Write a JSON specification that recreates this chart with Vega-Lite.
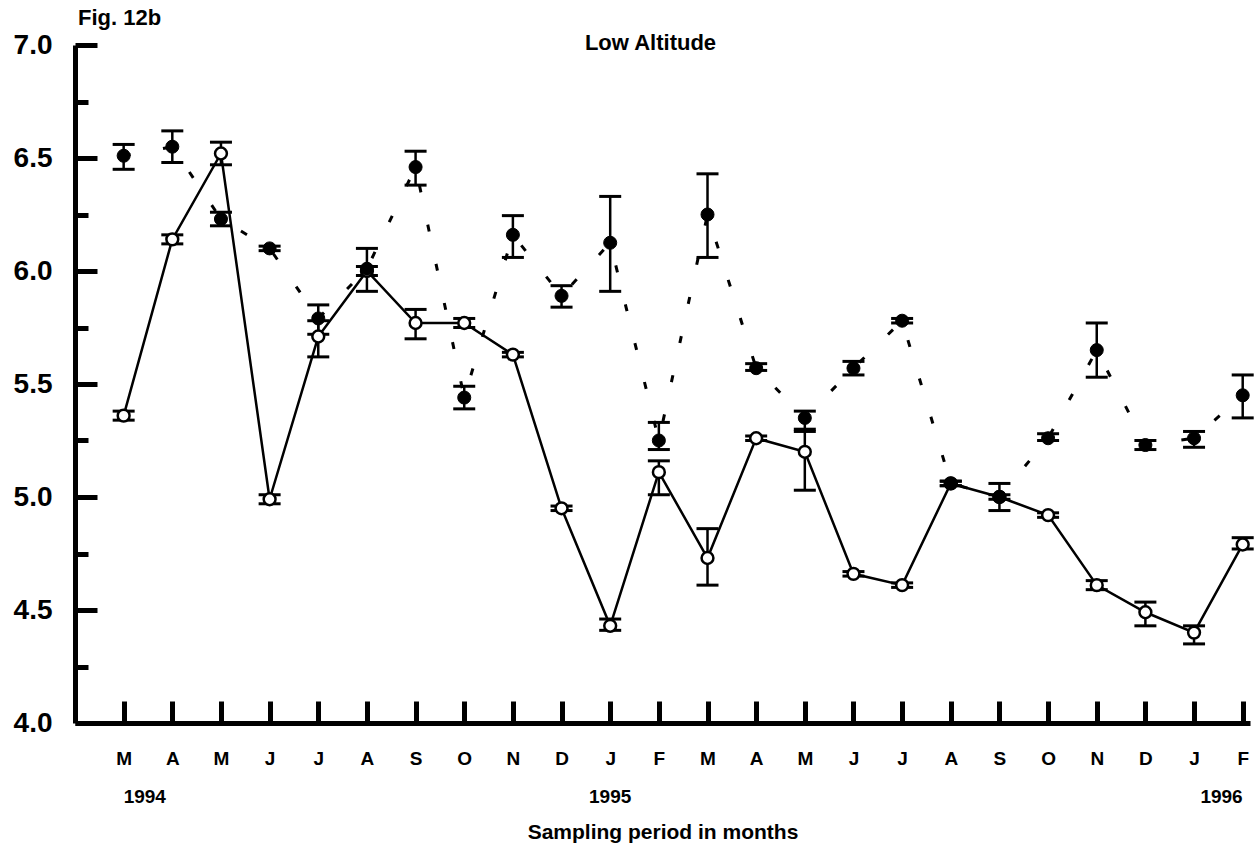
{
  "$schema": "https://vega.github.io/schema/vega-lite/v6.json",
  "width": 1175,
  "height": 678,
  "autosize": {"type": "none"},
  "padding": {"left": 75, "top": 45, "right": 5, "bottom": 131},
  "background": "white",
  "config": {"view": {"stroke": null}, "font": "Liberation Sans"},
  "title": {"text": "Low Altitude", "anchor": "middle", "frame": "group", "fontSize": 22, "fontWeight": "bold", "font": "Liberation Sans", "color": "black", "baseline": "middle", "offset": 0, "dx": -12, "dy": 58},
  "datasets": {
    "ph": [
      {"i": 0, "series": "filled", "v": 6.51, "lo": 6.45, "hi": 6.56},
      {"i": 1, "series": "filled", "v": 6.55, "lo": 6.48, "hi": 6.62},
      {"i": 2, "series": "filled", "v": 6.23, "lo": 6.2, "hi": 6.26},
      {"i": 3, "series": "filled", "v": 6.1, "lo": 6.09, "hi": 6.11},
      {"i": 4, "series": "filled", "v": 5.79, "lo": 5.72, "hi": 5.85},
      {"i": 5, "series": "filled", "v": 6.01, "lo": 5.91, "hi": 6.1},
      {"i": 6, "series": "filled", "v": 6.46, "lo": 6.38, "hi": 6.53},
      {"i": 7, "series": "filled", "v": 5.44, "lo": 5.39, "hi": 5.49},
      {"i": 8, "series": "filled", "v": 6.16, "lo": 6.06, "hi": 6.245},
      {"i": 9, "series": "filled", "v": 5.89, "lo": 5.84, "hi": 5.935},
      {"i": 10, "series": "filled", "v": 6.125, "lo": 5.91, "hi": 6.33},
      {"i": 11, "series": "filled", "v": 5.25, "lo": 5.21, "hi": 5.33},
      {"i": 12, "series": "filled", "v": 6.25, "lo": 6.06, "hi": 6.43},
      {"i": 13, "series": "filled", "v": 5.57, "lo": 5.56, "hi": 5.59},
      {"i": 14, "series": "filled", "v": 5.35, "lo": 5.29, "hi": 5.38},
      {"i": 15, "series": "filled", "v": 5.57, "lo": 5.54, "hi": 5.6},
      {"i": 16, "series": "filled", "v": 5.78, "lo": 5.77, "hi": 5.79},
      {"i": 17, "series": "filled", "v": 5.06, "lo": 5.05, "hi": 5.07},
      {"i": 18, "series": "filled", "v": 5.0, "lo": 4.94, "hi": 5.06},
      {"i": 19, "series": "filled", "v": 5.26, "lo": 5.25, "hi": 5.28},
      {"i": 20, "series": "filled", "v": 5.65, "lo": 5.53, "hi": 5.77},
      {"i": 21, "series": "filled", "v": 5.23, "lo": 5.21, "hi": 5.25},
      {"i": 22, "series": "filled", "v": 5.26, "lo": 5.22, "hi": 5.29},
      {"i": 23, "series": "filled", "v": 5.45, "lo": 5.35, "hi": 5.54},
      {"i": 0, "series": "open", "v": 5.36, "lo": 5.34, "hi": 5.38},
      {"i": 1, "series": "open", "v": 6.14, "lo": 6.12, "hi": 6.16},
      {"i": 2, "series": "open", "v": 6.52, "lo": 6.47, "hi": 6.57},
      {"i": 3, "series": "open", "v": 4.99, "lo": 4.97, "hi": 5.01},
      {"i": 4, "series": "open", "v": 5.71, "lo": 5.62, "hi": 5.78},
      {"i": 5, "series": "open", "v": 6.0, "lo": 5.98, "hi": 6.02},
      {"i": 6, "series": "open", "v": 5.77, "lo": 5.7, "hi": 5.83},
      {"i": 7, "series": "open", "v": 5.77, "lo": 5.75, "hi": 5.79},
      {"i": 8, "series": "open", "v": 5.63, "lo": 5.62, "hi": 5.64},
      {"i": 9, "series": "open", "v": 4.95, "lo": 4.94, "hi": 4.96},
      {"i": 10, "series": "open", "v": 4.43, "lo": 4.41, "hi": 4.46},
      {"i": 11, "series": "open", "v": 5.11, "lo": 5.01, "hi": 5.16},
      {"i": 12, "series": "open", "v": 4.73, "lo": 4.61, "hi": 4.86},
      {"i": 13, "series": "open", "v": 5.26, "lo": 5.25, "hi": 5.27},
      {"i": 14, "series": "open", "v": 5.2, "lo": 5.03, "hi": 5.3},
      {"i": 15, "series": "open", "v": 4.66, "lo": 4.65, "hi": 4.67},
      {"i": 16, "series": "open", "v": 4.61, "lo": 4.6, "hi": 4.62},
      {"i": 17, "series": "open", "v": 5.06, "lo": 5.05, "hi": 5.07},
      {"i": 18, "series": "open", "v": 5.0, "lo": 4.99, "hi": 5.01},
      {"i": 19, "series": "open", "v": 4.92, "lo": 4.91, "hi": 4.93},
      {"i": 20, "series": "open", "v": 4.61, "lo": 4.59, "hi": 4.63},
      {"i": 21, "series": "open", "v": 4.49, "lo": 4.43, "hi": 4.535},
      {"i": 22, "series": "open", "v": 4.4, "lo": 4.35, "hi": 4.43},
      {"i": 23, "series": "open", "v": 4.79, "lo": 4.77, "hi": 4.82}
    ],
    "years": [
      {"i": 0, "year": "1994"},
      {"i": 10, "year": "1995"},
      {"i": 23, "year": "1996"}
    ]
  },
  "layer": [
    {
      "data": {"name": "ph"},
      "transform": [{"filter": "datum.series === 'open'"}],
      "mark": {"type": "line", "color": "black", "strokeWidth": 2.5},
      "encoding": {
        "x": {"field": "i", "type": "quantitative", "scale": {"domain": [-1, 23.15], "nice": false, "zero": false},
          "axis": {"values": [0,1,2,3,4,5,6,7,8,9,10,11,12,13,14,15,16,17,18,19,20,21,22,23],
            "labelExpr": "['J','F','M','A','M','J','J','A','S','O','N','D'][(datum.value + 2) % 12]",
            "tickSize": -22, "tickWidth": 5, "tickColor": "black", "domainWidth": 5, "domainColor": "black",
            "labelPadding": 48, "labelFontSize": 19, "labelFontWeight": "bold", "labelFont": "Liberation Sans", "labelColor": "black",
            "labelFlush": false, "labelOverlap": false, "grid": false,
            "title": "Sampling period in months", "titleFontSize": 21, "titleFontWeight": "bold", "titleFont": "Liberation Sans", "titleColor": "black", "titlePadding": 53}},
        "y": {"field": "v", "type": "quantitative", "scale": {"domain": [4, 7], "nice": false, "zero": false},
          "axis": {"values": [4,4.25,4.5,4.75,5,5.25,5.5,5.75,6,6.25,6.5,6.75,7],
            "labelExpr": "abs(datum.value*2 - round(datum.value*2)) < 0.01 ? format(datum.value, '.1f') : ''",
            "tickSize": {"condition": {"test": "abs(datum.value*2 - round(datum.value*2)) < 0.01", "value": -22}, "value": -13},
            "tickWidth": 5, "tickColor": "black", "domainWidth": 5, "domainColor": "black",
            "labelPadding": 45, "labelFontSize": 28, "labelFontWeight": "bold", "labelFont": "Liberation Sans", "labelColor": "black",
            "labelFlush": false, "labelOverlap": false, "grid": false, "title": null}}
      }
    },
    {
      "data": {"name": "ph"},
      "transform": [{"filter": "datum.series === 'filled'"}],
      "mark": {"type": "line", "color": "black", "strokeWidth": 3, "strokeDash": [7, 33]},
      "encoding": {
        "x": {"field": "i", "type": "quantitative"},
        "y": {"field": "v", "type": "quantitative"}
      }
    },
    {
      "data": {"name": "ph"},
      "mark": {"type": "errorbar", "color": "black", "opacity": 1, "ticks": {"size": 22, "thickness": 3, "color": "black", "opacity": 1}, "rule": {"strokeWidth": 2.5, "color": "black", "opacity": 1}},
      "encoding": {
        "x": {"field": "i", "type": "quantitative"},
        "y": {"field": "lo", "type": "quantitative"},
        "y2": {"field": "hi"}
      }
    },
    {
      "data": {"name": "ph"},
      "transform": [{"filter": "datum.series === 'open'"}],
      "mark": {"type": "point", "shape": "circle", "size": 140, "filled": true, "fill": "white", "stroke": "black", "strokeWidth": 2.5, "opacity": 1},
      "encoding": {
        "x": {"field": "i", "type": "quantitative"},
        "y": {"field": "v", "type": "quantitative"}
      }
    },
    {
      "data": {"name": "ph"},
      "transform": [{"filter": "datum.series === 'filled'"}],
      "mark": {"type": "point", "shape": "circle", "size": 170, "filled": true, "fill": "black", "stroke": "black", "strokeWidth": 1, "opacity": 1},
      "encoding": {
        "x": {"field": "i", "type": "quantitative"},
        "y": {"field": "v", "type": "quantitative"}
      }
    },
    {
      "data": {"name": "years"},
      "mark": {"type": "text", "fontSize": 19, "fontWeight": "bold", "font": "Liberation Sans", "color": "black", "baseline": "middle", "dy": 74,
        "align": {"expr": "datum.i === 0 ? 'left' : (datum.i === 23 ? 'right' : 'center')"}},
      "encoding": {
        "x": {"field": "i", "type": "quantitative"},
        "y": {"datum": 4},
        "text": {"field": "year"}
      }
    },
    {
      "data": {"values": [{"label": "Fig. 12b"}]},
      "mark": {"type": "text", "fontSize": 22, "fontWeight": "bold", "font": "Liberation Sans", "color": "black", "baseline": "middle", "align": "left", "dx": 3, "dy": -27},
      "encoding": {
        "x": {"datum": -1},
        "y": {"datum": 7},
        "text": {"field": "label"}
      }
    }
  ]
}
